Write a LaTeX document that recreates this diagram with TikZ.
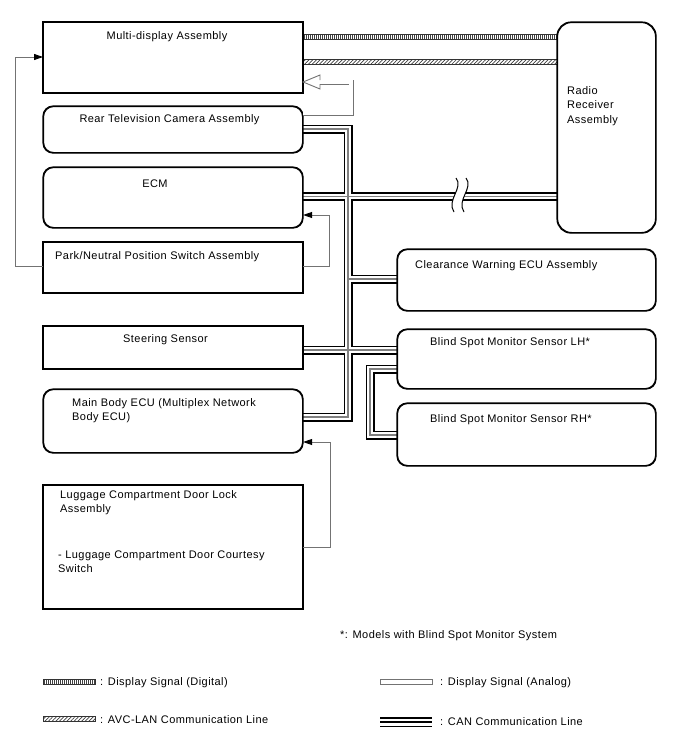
\documentclass[tikz,border=0pt]{standalone}
\usepackage{fontspec}
\setmainfont[LetterSpace=4]{Liberation Sans}
\usetikzlibrary{arrows.meta,patterns.meta}
\begin{document}
\begin{tikzpicture}[x=1pt,y=-1pt,
  font=\fontsize{11}{14.7}\selectfont,
  box/.style={draw=black, line width=1.1pt, anchor=north west, inner sep=0pt, fill=white},
  rbox/.style={box, rounded corners=10pt},
  lbl/.style={inner sep=0pt, anchor=base west, align=left},
  clbl/.style={inner sep=0pt, anchor=base},
  canA/.style={line width=9pt, black},
  canB/.style={line width=5.4pt, white},
  canC/.style={line width=1.2pt, black!50},
  sig/.style={draw=black!55, line width=0.9pt, -{Triangle[length=9pt,width=6pt,color=black]}},
  ana/.style={draw=black!55, line width=0.9pt, double=white, double distance=3.2pt},
  digi/.style={pattern={Lines[angle=90,distance=2pt,line width=0.8pt]}, pattern color=black!75},
  avc/.style={pattern={Lines[angle=45,distance=2.6pt,line width=0.7pt]}, pattern color=black!75},
  bandedge/.style={draw=black!80, line width=0.6pt}
]
\fill[white] (0,0) rectangle (688,755);
\useasboundingbox (0,0) rectangle (688,755);

% boxes (coordinates for connectors)
\path
  (43,22)   node[box,  minimum width=259pt, minimum height=70pt] (md) {}
  (43,106)  node[rbox, minimum width=259pt, minimum height=46pt] (rc) {}
  (43,167)  node[rbox, minimum width=259pt, minimum height=60pt] (ecm) {}
  (43,242)  node[box,  minimum width=259pt, minimum height=50pt] (pn) {}
  (43,326)  node[box,  minimum width=259pt, minimum height=42pt] (ss) {}
  (43,389)  node[rbox, minimum width=259pt, minimum height=63pt] (mb) {}
  (43,485)  node[box,  minimum width=259pt, minimum height=123pt] (lg) {}
  (557,22)  node[rbox, rounded corners=14pt, minimum width=98pt, minimum height=210pt] (rr) {}
  (397,249) node[rbox, minimum width=258pt, minimum height=61pt] (cw) {}
  (397,329) node[rbox, minimum width=258pt, minimum height=59pt] (lh) {}
  (397,403) node[rbox, minimum width=258pt, minimum height=62pt] (rh) {};

% CAN lines
\foreach \st in {canA,canB,canC}{
  \draw[\st] (rc.east |- 0,129) -- (348,129) -- (348,417) -- (mb.east |- 0,417);
  \draw[\st] (ecm.east |- 0,196.5) -- (rr.west |- 0,196.5);
  \draw[\st] (348,279) -- (cw.west |- 0,279);
  \draw[\st] (ss.east |- 0,350) -- (lh.west |- 0,350);
  \draw[\st] (lh.west |- 0,369) -- (370,369) -- (370,435) -- (rh.west |- 0,435);
}
% break mark
\fill[white] (456,178) .. controls (464,188) and (446,200) .. (454,212) -- (464,212) .. controls (456,200) and (474,188) .. (466,178) -- cycle;
\draw[line width=1pt] (456,178) .. controls (464,188) and (446,200) .. (454,212);
\draw[line width=1pt] (466,178) .. controls (474,188) and (456,200) .. (464,212);

% digital and AVC-LAN lines
\path[digi] (md.east |- 0,34.5) rectangle (rr.west |- 0,39.5);
\draw[bandedge] (md.east |- 0,34.5) -- (rr.west |- 0,34.5) (md.east |- 0,39.5) -- (rr.west |- 0,39.5);
\path[avc] (md.east |- 0,59.5) rectangle (rr.west |- 0,64);
\draw[bandedge] (md.east |- 0,59.5) -- (rr.west |- 0,59.5) (md.east |- 0,64) -- (rr.west |- 0,64);

% redraw box outlines on top
\foreach \n in {md,pn,ss,lg}{ \draw[line width=1.1pt] (\n.north west) rectangle (\n.south east); }
\foreach \n in {rc,ecm,mb,cw,lh,rh}{ \draw[line width=1.1pt, rounded corners=10pt] (\n.north west) rectangle (\n.south east); }
\draw[line width=1.1pt, rounded corners=14pt] (rr.north west) rectangle (rr.south east);

% analog display signal
\draw[ana] (rc.east |- 0,113) -- (351,113) -- (351,82) -- (320,82);
\draw[draw=black!55, line width=0.9pt] (320,80) -- (320,75) -- (md.east |- 0,82) -- (320,89) -- (320,84);

% signal arrows
\draw[sig] (pn.west |- 0,266) -- (15,266) -- (15,57) -- (md.west |- 0,57);
\draw[sig] (pn.east |- 0,266) -- (329,266) -- (329,215) -- (ecm.east |- 0,215);
\draw[sig] (lg.east |- 0,547) -- (330,547) -- (330,442) -- (mb.east |- 0,442);

% texts (multi-line nodes are placed by the baseline of their last line)
\node[clbl] (tmd) at (167,39) {Multi-display Assembly};
\node[clbl] (trc) at (169.5,122) {Rear Television Camera Assembly};
\node[clbl] (tecm) at (155,187) {ECM};
\node[lbl] (tpn) at (55,259) {Park/Neutral Position Switch Assembly};
\node[clbl] (tss) at (165.5,342) {Steering Sensor};
\node[lbl] (tmb) at (72,420.7) {Main Body ECU (Multiplex Network\\Body ECU)};
\node[lbl] (tlg1) at (60,512.7) {Luggage Compartment Door Lock\\Assembly};
\node[lbl] (tlg2) at (58,572.7) {- Luggage Compartment Door Courtesy\\Switch};
\node[lbl] (trr) at (567,123.4) {Radio\\Receiver\\Assembly};
\node[lbl] (tcw) at (415,268) {Clearance Warning ECU Assembly};
\node[lbl] (tlh) at (430,345) {Blind Spot Monitor Sensor LH*};
\node[lbl] (trh) at (430,422) {Blind Spot Monitor Sensor RH*};
\node[lbl] (note) at (340,638) {*: Models with Blind Spot Monitor System};

% legend
\path[digi] (43,679) rectangle (95,684);
\draw[black!80, line width=0.6pt] (43,679) rectangle (95,684);
\node[lbl] (ldig) at (100,685) {: Display Signal (Digital)};
\path[avc] (43,716.5) rectangle (95,721.5);
\draw[black!80, line width=0.6pt] (43,716.5) rectangle (95,721.5);
\node[lbl] (lavc) at (100,723) {: AVC-LAN Communication Line};
\draw[black!55, line width=0.9pt] (380,679) rectangle (432,684);
\node[lbl] (lana) at (440,685) {: Display Signal (Analog)};
\draw[line width=10pt, black] (380,722) -- (432,722);
\draw[line width=7pt, white] (380,722) -- (432,722);
\draw[line width=1.6pt, black] (380,722) -- (432,722);
\node[lbl] (lcan) at (440,725) {: CAN Communication Line};
\end{tikzpicture}
\end{document}
